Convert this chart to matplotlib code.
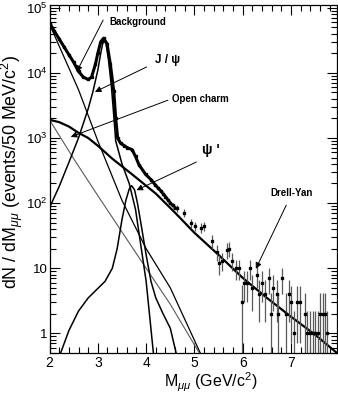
import numpy as np
import matplotlib
matplotlib.use("Agg")
import matplotlib.pyplot as plt
from matplotlib.ticker import FixedLocator, FixedFormatter, MultipleLocator, LogLocator, NullFormatter

plt.rcParams['font.family'] = ['Liberation Sans', 'DejaVu Sans']
plt.rcParams['mathtext.fontset'] = 'custom'
plt.rcParams['mathtext.rm'] = 'Liberation Sans'
plt.rcParams['mathtext.it'] = 'Liberation Sans:italic'
plt.rcParams['mathtext.bf'] = 'Liberation Sans:bold'

# total fit / dense low-mass data (events per 50 MeV)
fit_m = [2.0, 2.1, 2.2, 2.3, 2.4, 2.5, 2.6, 2.7, 2.8, 2.87, 2.95, 3.0, 3.06, 3.12,
         3.19, 3.26, 3.33, 3.37, 3.41, 3.47, 3.55, 3.61, 3.71, 3.78, 3.85, 3.99,
         4.1, 4.19, 4.3, 4.4, 4.5, 4.6]
fit_n = [58900, 43600, 33100, 25100, 19000, 14500, 10500, 8600, 7900, 8600, 13500,
         20000, 30000, 34000, 28000, 13500, 5200, 2000, 1000, 830, 760, 710, 660,
         520, 390, 275, 230, 190, 155, 126, 100, 85]

# components
bg_m = [2.0, 2.3, 2.6, 3.0, 3.5, 4.0, 4.5, 5.12]
bg_n = [56000, 17500, 5500, 900, 110, 20, 5, 0.5]

oc_m = [2.0, 2.5, 3.0, 3.5, 4.0, 4.5, 5.1]
oc_n = [1900, 480, 130, 36, 10, 2.8, 0.5]

dy_m = [2.0, 2.2, 2.4, 2.6, 2.8, 3.0, 3.3, 3.7, 4.2, 4.6, 5.0, 5.5, 6.0, 6.5, 7.0, 7.5, 7.95]
dy_n = [1900, 1750, 1500, 1200, 1000, 760, 480, 280, 140, 71, 35, 16, 7.1, 3.5, 1.8, 0.95, 0.5]

jpsi_m = [2.0, 2.2, 2.4, 2.6, 2.8, 2.9, 3.0, 3.06, 3.1, 3.13, 3.17, 3.22, 3.28, 3.33,
          3.37, 3.5, 3.65, 3.78, 3.9, 4.0, 4.15]
jpsi_n = [85, 180, 420, 1000, 2800, 5200, 11000, 20000, 28000, 31000, 28000, 16000,
          6300, 2200, 900, 400, 200, 80, 20, 6.3, 0.5]

psip_m = [2.23, 2.4, 2.6, 2.8, 3.0, 3.15, 3.3, 3.4, 3.5, 3.58, 3.65, 3.70, 3.76,
          3.82, 3.9, 4.0, 4.1, 4.2, 4.35, 4.5, 4.62]
psip_n = [0.5, 1.1, 2.2, 3.5, 4.9, 6.3, 10, 20, 56, 110, 165, 185, 160, 100, 45, 16,
          6.3, 3.5, 2.0, 1.2, 0.5]

# sparse high-mass data with errors
hm_m = [4.25, 4.35, 4.45, 4.55, 4.64, 4.78, 4.92, 5.02, 5.13, 5.19, 5.37, 5.47, 5.5,
        5.58, 5.68, 5.71, 5.78, 5.85, 5.92, 5.98, 6.02, 6.09, 6.14, 6.2, 6.29, 6.33,
        6.4, 6.47, 6.54, 6.58, 6.63, 6.7, 6.72, 6.82, 6.89, 6.95, 6.99, 7.07, 7.13,
        7.19, 7.28, 7.33, 7.4, 7.45, 7.5, 7.55, 7.6, 7.66, 7.7, 7.75]
hm_n = [170, 140, 110, 92, 83, 71, 49, 44, 42, 44, 26, 18, 12, 13, 19, 20, 13, 10, 10,
        3, 6, 6, 10, 5, 8, 4, 6, 4, 7, 2, 5, 4, 2, 7, 2, 4, 3, 1, 3, 3, 2, 1, 1, 1, 1,
        1, 2, 2, 2, 1]
hm_err = [12, 11, 10, 10, 10, 9, 8, 7, 7, 7, 6, 5, 4, 4, 5, 5, 4, 3.5, 3.5, 2.5, 3, 3,
          3.5, 2.8, 3, 2.5, 3, 2.5, 3, 2.2, 2.8, 2.5, 2.2, 3, 2.2, 2.5, 2.3, 1.2, 2.3,
          2.3, 2.2, 1.2, 1.2, 1.2, 1.2, 1.2, 2.2, 2.2, 2.2, 1.2]

xticks = [2, 3, 4, 5, 6, 7, 8]
yticks = [1, 10, 100, 1000, 10000, 100000]
ytick_labels = ['1', '10', '$10^2$', '$10^3$', '$10^4$', '$10^5$']

fig = plt.figure(figsize=(3.38, 3.96), dpi=100)
ax = fig.add_axes([0.1465, 0.1086, 0.8505, 0.8788])
ax.set_yscale('log')

ax.plot(bg_m, bg_n, color='k', lw=0.9)
ax.plot(oc_m, oc_n, color='0.35', lw=0.8)
ax.plot(dy_m, dy_n, color='k', lw=1.6)
ax.plot(jpsi_m, jpsi_n, color='k', lw=1.1)
ax.plot(psip_m, psip_n, color='k', lw=1.1)
ax.plot(fit_m, fit_n, color='k', lw=2.2, marker='s', ms=1.4)

hm_n_a = np.array(hm_n, dtype=float)
hm_err_a = np.array(hm_err, dtype=float)
lo = hm_n_a - np.maximum(hm_n_a - hm_err_a, 0.05)
ax.errorbar(hm_m, hm_n, yerr=[lo, hm_err_a], fmt='s', ms=1.8, color='k',
            ecolor='0.35', elinewidth=0.9, capsize=0)

ax.set_xlim(2, 7.95)
ax.set_ylim(0.5, 1.1e5)

ax.xaxis.set_major_locator(FixedLocator(xticks))
ax.xaxis.set_minor_locator(MultipleLocator(0.2))
ax.yaxis.set_major_locator(FixedLocator(yticks))
ax.yaxis.set_major_formatter(FixedFormatter(ytick_labels))
ax.yaxis.set_minor_locator(LogLocator(base=10, subs=np.arange(2, 10)))
ax.yaxis.set_minor_formatter(NullFormatter())
ax.tick_params(which='both', direction='in', top=True, right=True, labelsize=10, width=0.8)
ax.tick_params(axis='y', pad=1.5, labelsize=9.5)
ax.tick_params(axis='x', pad=2.5)
ax.tick_params(which='major', length=7)
ax.tick_params(which='minor', length=4)
for s in ax.spines.values():
    s.set_linewidth(0.9)

ax.set_ylabel(r'dN / dM$_{\mu\mu}$ (events/50 MeV/c$^2$)', fontsize=12.8)
ax.yaxis.set_label_coords(-0.084, 0.52)
ax.set_xlabel(r'M$_{\mu\mu}$ (GeV/c$^2$)', fontsize=11.5)
ax.xaxis.set_label_coords(0.56, -0.052)

arrow = dict(arrowstyle='-|>', color='k', lw=0.7, mutation_scale=9, shrinkA=0, shrinkB=0)
ax.annotate('', xy=(2.56, 10300), xytext=(3.11, 64500), arrowprops=arrow)
ax.text(3.82, 60000, 'Background', fontsize=7, fontweight='bold', ha='center', va='center')

ax.annotate('', xy=(2.94, 5100), xytext=(4.01, 12300), arrowprops=arrow)
ax.text(4.18, 15600, 'J / ψ', fontsize=8.5, fontweight='bold', ha='left', va='center')

ax.annotate('', xy=(2.44, 1040), xytext=(4.45, 3800), arrowprops=arrow)
ax.text(4.53, 3900, 'Open charm', fontsize=7, fontweight='bold', ha='left', va='center')

ax.annotate('', xy=(3.80, 158), xytext=(5.04, 427), arrowprops=arrow)
ax.text(5.15, 650, "ψ '", fontsize=10, fontweight='bold', ha='left', va='center')

ax.annotate('', xy=(6.27, 9.8), xytext=(6.90, 93), arrowprops=arrow)
ax.text(7.02, 141, 'Drell-Yan', fontsize=7, fontweight='bold', ha='center', va='center')

fig.savefig('out.png', dpi=100)
